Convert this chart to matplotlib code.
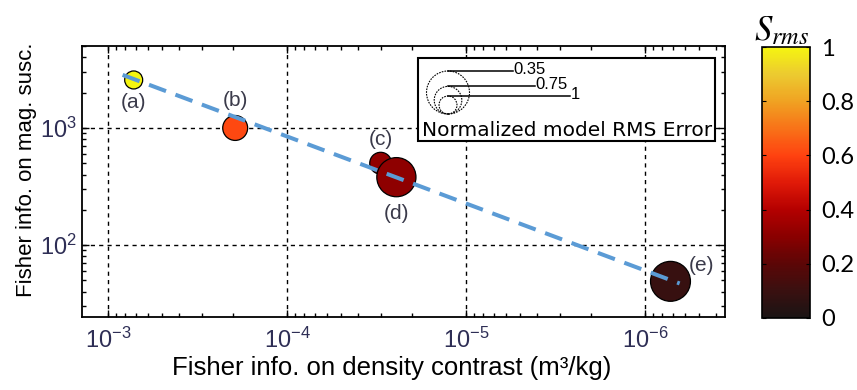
import numpy as np
import matplotlib.pyplot as plt
from matplotlib.colors import LinearSegmentedColormap
from matplotlib.patches import Rectangle
from matplotlib.ticker import LogLocator, NullFormatter

plt.rcParams['font.family'] = ['Liberation Sans', 'DejaVu Sans']
plt.rcParams['mathtext.fontset'] = 'stix'

# data
labels = ['(a)', '(b)', '(c)', '(d)', '(e)']
fisher_density = [7.2e-4, 1.95e-4, 3.0e-5, 2.45e-5, 7.2e-7]
fisher_susc = [2570, 1000, 500, 380, 49]
s_rms = [1.0, 0.61, 0.32, 0.31, 0.09]
rms_error = [1.0, 0.82, 0.90, 0.45, 0.43]

fit_x = [8.3e-4, 6.4e-7]
fit_y = [2840, 47]

legend_errors = [0.35, 0.75, 1]
legend_line_end = [513, 535, 570]   # px, where the leader lines stop

# label offsets (points)
label_offsets = [(0, -16.5), (0, 19.5), (0, 17), (0, -26), (22, 11.5)]

cmap = LinearSegmentedColormap.from_list('srms', [
    (0.0, '#1a1414'), (0.1, '#3a1010'), (0.2, '#5c0606'), (0.3, '#8a0000'),
    (0.4, '#b40000'), (0.5, '#e01a08'), (0.6, '#ff4210'), (0.7, '#f87218'),
    (0.8, '#f0a222'), (0.9, '#ecca30'), (1.0, '#f5f510')])

DPI = 100


def radius_px(err):
    # bubble radius shrinks linearly with the normalized error
    return 28.23 - 19.23 * np.asarray(err, dtype=float)


def marker_area(err):
    d_pt = 2 * radius_px(err) * 72 / DPI
    return d_pt ** 2


fig = plt.figure(figsize=(8.57, 3.9), dpi=DPI)
ax = fig.add_axes([82 / 857, 1 - 317 / 390, 643 / 857, 271 / 390])
cax = fig.add_axes([762 / 857, 1 - 318 / 390, 48 / 857, 271 / 390])

ax.set_xscale('log')
ax.set_yscale('log')
ax.set_xlim(1.4e-3, 3.57e-7)
ax.set_ylim(24.3, 5012)

ax.plot(fit_x, fit_y, color='#5b9bd5', lw=2.9, dashes=(4.5, 2.5), zorder=4)

sc = ax.scatter(fisher_density, fisher_susc, s=marker_area(rms_error), c=s_rms,
                cmap=cmap, vmin=0, vmax=1, edgecolors='black', linewidths=0.9,
                zorder=3)

for lab, x, y, off in zip(labels, fisher_density, fisher_susc, label_offsets):
    ax.annotate(lab, (x, y), xytext=off, textcoords='offset points',
                ha='center', va='center', fontsize=15, color='#3a3a4a', zorder=5)

ax.grid(True, which='major', color='black', linestyle=(0, (3, 3)), lw=1.0)
ax.xaxis.set_major_locator(LogLocator(base=10, numticks=10))
ax.xaxis.set_minor_locator(LogLocator(base=10, subs=np.arange(2, 10), numticks=10))
ax.xaxis.set_minor_formatter(NullFormatter())
ax.yaxis.set_minor_formatter(NullFormatter())
ax.tick_params(which='both', direction='in', top=True, right=True, width=1)
ax.tick_params(which='major', length=5, labelsize=17, labelcolor='#2e2e55')
ax.tick_params(axis='x', which='major', pad=8)
ax.tick_params(axis='y', which='major', pad=4)
ax.tick_params(which='minor', length=3)
for sp in ax.spines.values():
    sp.set_linewidth(1.3)

ax.set_xlabel('Fisher info. on density contrast (m³/kg)', fontsize=18.5)
ax.xaxis.set_label_coords((392 - 82) / 643, -0.145)
ax.set_ylabel('Fisher info. on mag. susc.', fontsize=16)
ax.yaxis.set_label_coords(-0.07, 0.542)

# size legend box
ax_h = 271.0
ax_w = 643.0


def to_ax(px, py):
    return (px - 82) / ax_w, (317 - py) / ax_h


bx0, by0 = to_ax(418, 141)
bx1, by1 = to_ax(715, 58)
ax.add_patch(Rectangle((bx0, by0), bx1 - bx0, by1 - by0, transform=ax.transAxes,
                       facecolor='white', edgecolor='black', lw=1.5, zorder=6))
cx_px, base_px = 448, 114
for err, xend in zip(legend_errors, legend_line_end):
    r = float(radius_px(err))
    cx, cy = to_ax(cx_px, base_px - r)
    ax.scatter([cx], [cy], s=marker_area(err), facecolors='none',
               edgecolors='black', linewidths=0.8, linestyles=(0, (1.5, 1)),
               transform=ax.transAxes, zorder=7, clip_on=False)
    x0, y0 = to_ax(cx_px, base_px - 2 * r)
    x1, _ = to_ax(xend, 0)
    ax.plot([x0, x1], [y0, y0], color='black', lw=1.1, transform=ax.transAxes,
            zorder=7)
    ax.text(x1 + 0.001, y0 + 0.006, str(err), transform=ax.transAxes,
            fontsize=12, va='center', ha='left', zorder=7)
tx, ty = to_ax(567, 130)
ax.text(tx, ty, 'Normalized model RMS Error', transform=ax.transAxes,
        fontsize=14.5, family='DejaVu Sans', ha='center', va='center', zorder=7)

# colour bar
cb = fig.colorbar(sc, cax=cax, ticks=[0, 0.2, 0.4, 0.6, 0.8, 1])
cb.ax.set_yticklabels(['0', '0.2', '0.4', '0.6', '0.8', '1'])
cb.ax.tick_params(direction='in', left=True, right=True, length=3, labelsize=17,
                  pad=8)
for lab in cb.ax.get_yticklabels():
    lab.set_family('Lato')
cb.outline.set_linewidth(1.2)
cb.ax.set_title('$S_{rms}$', fontsize=25, pad=4, x=0.4)

fig.savefig('out.png', dpi=DPI)
